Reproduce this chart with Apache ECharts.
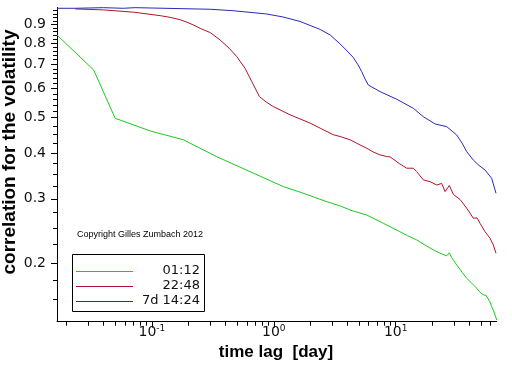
<!DOCTYPE html>
<html><head><meta charset="utf-8">
<script src="https://cdn.jsdelivr.net/npm/echarts@6/dist/echarts.min.js"></script>
<style>html,body{margin:0;padding:0;background:#fff}#c{width:512px;height:366px}</style>
</head><body><div id="c"></div>
<script>
// Axis extents (days / correlation)
const xMin = 0.01667, xMax = 67.3;
const yMin = 0.1385, yMax = 1.0;

// Tick values
const xMajorTicks = [0.1, 1, 10];
const xMinorTicks = [0.02,0.03,0.04,0.05,0.06,0.07,0.08,0.09,0.2,0.3,0.4,0.5,0.6,0.7,0.8,0.9,2,3,4,5,6,7,8,9,20,30,40,50,60];
const yLabelTicks = [0.2,0.3,0.4,0.5,0.6,0.7,0.8,0.9];
const yMinorTicks = [0.16,0.18,0.225,0.25,0.275,0.325,0.35,0.375,0.425,0.45,0.475,0.52,0.54,0.56,0.58,0.62,0.64,0.66,0.68,0.72,0.74,0.76,0.78,0.82,0.84,0.86,0.88,0.92,0.94,0.96,0.98];

// Legend labels
const legendLabels = ['01:12', '22:48', '7d 14:24'];
const seriesColors = ['#1ec81e', '#b0142a', '#2a2ab4'];

// Series 01:12 (green)
const lagGreen = [0.01667,0.0333,0.05,0.0968,0.1815,0.341,0.639,1.198,1.64,2.72,3.5,4.3,5.785,7.91,10.8,12.5,14.86,17.5,20.3,23.5,26.2,27.5,28.9,31.6,35,38.2,42,46.1,49,52.3,55,57.1,59.3,61,63.1,65.5,67.3];
const corrGreen = [0.841,0.675,0.498,0.460,0.435,0.391,0.356,0.324,0.313,0.2947,0.287,0.279,0.271,0.2573,0.244,0.238,0.2317,0.224,0.2177,0.2125,0.2096,0.2136,0.2069,0.198,0.189,0.182,0.1765,0.171,0.1668,0.164,0.1635,0.1618,0.1568,0.1525,0.149,0.144,0.140];

// Series 22:48 (red)
const lagRed = [0.0235,0.0401,0.0707,0.117,0.141,0.171,0.1946,0.219,0.249,0.301,0.363,0.43,0.497,0.5816,0.660,0.762,0.87,0.992,1.36,1.64,1.99,2.40,3.08,3.50,4.22,4.79,5.785,6.52,7.44,8.44,8.98,10.8,12.3,13.94,14.86,16.84,19.1,21.7,23.8,25.4,27.5,29.7,33.7,38.2,40.6,43.2,46.4,49.1,53.9,59.3,63.1,66.4];
const corrRed = [0.991,0.985,0.971,0.950,0.940,0.926,0.911,0.896,0.877,0.854,0.815,0.774,0.734,0.682,0.627,0.571,0.551,0.536,0.509,0.496,0.483,0.468,0.449,0.444,0.435,0.4256,0.4124,0.403,0.3956,0.3915,0.3907,0.3737,0.3638,0.3638,0.356,0.338,0.3343,0.3274,0.3305,0.314,0.3264,0.3084,0.2988,0.2827,0.2745,0.2656,0.2661,0.2573,0.2441,0.2342,0.2245,0.2131];

// Series 7d 14:24 (blue)
const lagBlue = [0.01667,0.0235,0.0236,0.0401,0.0402,0.0582,0.0583,0.0729,0.073,0.17,0.301,0.4637,0.876,1.192,1.64,2.40,2.90,3.50,3.91,4.49,4.91,5.26,5.60,5.96,7.44,10.19,13.94,16.84,21.0,26.2,31.6,34.95,38.2,43.2,48.2,53.9,61.2,66.4];
const corrBlue = [0.995,0.995,0.999,0.999,0.995,0.995,0.999,0.999,0.995,0.993,0.989,0.980,0.960,0.942,0.916,0.871,0.841,0.795,0.766,0.730,0.697,0.668,0.638,0.614,0.589,0.5614,0.5304,0.503,0.4807,0.4725,0.4485,0.4264,0.4037,0.3833,0.3702,0.3598,0.3415,0.3108];

const L = Math.log10;
const zip = (a, b) => a.map((v, i) => [v, b[i]]);
const seriesData = [zip(lagGreen, corrGreen), zip(lagRed, corrRed), zip(lagBlue, corrBlue)];

const tickFont = 'DejaVu Sans';
const chart = echarts.init(document.getElementById('c'), null, {renderer: 'canvas'});
const noSplit = {show: false};
const option = {
  animation: false,
  backgroundColor: '#fff',
  grid: {left: 57, right: 15.3, top: 7.5, bottom: 44.3, outerBoundsMode: 'none'},
  xAxis: [
    {type: 'log', logBase: 10, min: xMin, max: xMax, position: 'bottom',
     axisLine: {onZero: false, lineStyle: {color: '#000', width: 1}},
     axisTick: {show: false}, axisLabel: {show: false}, splitLine: noSplit, minorTick: {show: false}},
    {type: 'value', min: L(xMin), max: L(xMax), position: 'bottom',
     axisLine: {show: false, onZero: false},
     axisTick: {show: true, length: 4, customValues: xMinorTicks.map(L), lineStyle: {color: '#000'}},
     axisLabel: {show: false}, splitLine: noSplit},
    {type: 'value', min: L(xMin), max: L(xMax), position: 'bottom',
     axisLine: {show: false, onZero: false},
     axisTick: {show: true, length: 6, customValues: xMajorTicks.map(L), lineStyle: {color: '#000'}},
     axisLabel: {show: true, customValues: xMajorTicks.map(L), margin: 2,
       formatter: v => '{b|10}{s|' + Math.round(v) + '}',
       rich: {
         b: {fontFamily: tickFont, fontSize: 14, color: '#111', verticalAlign: 'bottom', lineHeight: 16},
         s: {fontFamily: tickFont, fontSize: 9, color: '#111', verticalAlign: 'top', padding: [0, 0, 6, 0]}
       }},
     splitLine: noSplit}
  ],
  yAxis: [
    {type: 'log', logBase: 10, min: yMin, max: yMax, position: 'left',
     axisLine: {onZero: false, lineStyle: {color: '#000', width: 1}},
     axisTick: {show: false}, axisLabel: {show: false}, splitLine: noSplit, minorTick: {show: false}},
    {type: 'value', min: L(yMin), max: L(yMax), position: 'left',
     axisLine: {show: false, onZero: false},
     axisTick: {show: true, length: 4, customValues: yMinorTicks.map(L), lineStyle: {color: '#000'}},
     axisLabel: {show: false}, splitLine: noSplit},
    {type: 'value', min: L(yMin), max: L(yMax), position: 'left',
     axisLine: {show: false, onZero: false},
     axisTick: {show: true, length: 6, customValues: yLabelTicks.map(L), lineStyle: {color: '#000'}},
     axisLabel: {show: true, customValues: yLabelTicks.map(L), margin: 11,
       formatter: v => Math.pow(10, v).toFixed(1),
       fontFamily: tickFont, fontSize: 14, color: '#111'},
     splitLine: noSplit}
  ],
  series: seriesData.map((d, i) => ({
    type: 'line', name: legendLabels[i], data: d, xAxisIndex: 0, yAxisIndex: 0,
    showSymbol: false, symbol: 'none', silent: true,
    lineStyle: {color: seriesColors[i], width: 1}, itemStyle: {color: seriesColors[i]}
  })),
  graphic: [
    {type: 'text', x: 10, y: 152, rotation: Math.PI / 2,
     style: {text: 'correlation for the volatility', font: 'bold 19px "Liberation Sans"', fill: '#000', align: 'center', verticalAlign: 'middle'}},
    {type: 'text', x: 276, y: 352,
     style: {text: 'time lag  [day]', font: 'bold 17px "Liberation Sans"', fill: '#000', align: 'center', verticalAlign: 'middle'}},
    {type: 'text', x: 77, y: 235,
     style: {text: 'Copyright Gilles Zumbach 2012', font: '9px "Liberation Sans"', fill: '#000', verticalAlign: 'middle'}},
    {type: 'rect', shape: {x: 72.5, y: 254.5, width: 132, height: 57},
     style: {fill: '#fff', stroke: '#000', lineWidth: 1}},
    ...legendLabels.map((t, i) => ({type: 'line', shape: {x1: 76, y1: 271.5 + i * 15, x2: 133, y2: 271.5 + i * 15},
      style: {stroke: seriesColors[i], lineWidth: 1}})),
    ...legendLabels.map((t, i) => ({type: 'text', x: 200, y: 271 + i * 15,
      style: {text: t, font: '13px "DejaVu Sans"', fill: '#111', align: 'right', verticalAlign: 'middle'}}))
  ]
};
chart.setOption(option);
</script>
</body></html>
